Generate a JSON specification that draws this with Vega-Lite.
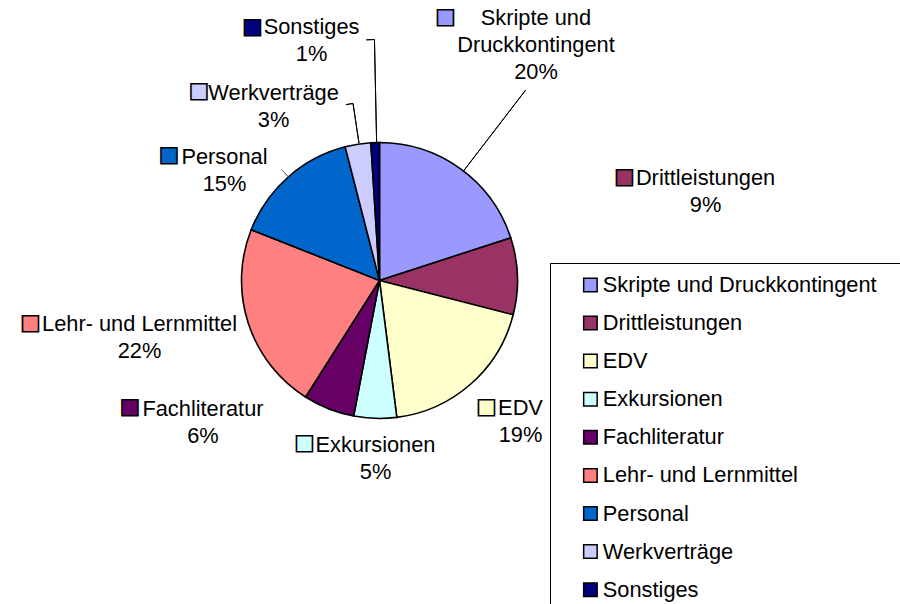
{
  "$schema": "https://vega.github.io/schema/vega-lite/v6.json",
  "width": 759,
  "height": 561,
  "autosize": "none",
  "padding": {"left": 0, "top": 0, "right": 141, "bottom": 43},
  "background": "white",
  "config": {"view": {"stroke": null}},
  "data": {
    "values": [
      {"kategorie": "Skripte und Druckkontingent", "anteil": 20, "etikett": "Skripte und\nDruckkontingent\n20%"},
      {"kategorie": "Drittleistungen", "anteil": 9, "etikett": "Drittleistungen\n9%"},
      {"kategorie": "EDV", "anteil": 19, "etikett": "EDV\n19%"},
      {"kategorie": "Exkursionen", "anteil": 5, "etikett": "Exkursionen\n5%"},
      {"kategorie": "Fachliteratur", "anteil": 6, "etikett": "Fachliteratur\n6%"},
      {"kategorie": "Lehr- und Lernmittel", "anteil": 22, "etikett": "Lehr- und Lernmittel\n22%"},
      {"kategorie": "Personal", "anteil": 15, "etikett": "Personal\n15%"},
      {"kategorie": "Werkverträge", "anteil": 3, "etikett": "Werkverträge\n3%"},
      {"kategorie": "Sonstiges", "anteil": 1, "etikett": "Sonstiges\n1%"}
    ]
  },
  "transform": [
    {"window": [{"op": "row_number", "as": "nr"}, {"op": "sum", "field": "anteil", "as": "kum"}], "frame": [null, 0]}
  ],
  "layer": [
    {
      "mark": {"type": "arc", "radius": 138, "stroke": "black", "strokeWidth": 1.6},
      "encoding": {
        "theta": {"field": "anteil", "type": "quantitative", "stack": true, "scale": {"domain": [0, 100]}},
        "order": {"field": "nr", "type": "quantitative"},
        "color": {
          "field": "kategorie", "type": "nominal",
          "scale": {
            "domain": ["Skripte und Druckkontingent", "Drittleistungen", "EDV", "Exkursionen", "Fachliteratur", "Lehr- und Lernmittel", "Personal", "Werkverträge", "Sonstiges"],
            "range": ["#9999FF", "#993366", "#FFFFCC", "#CCFFFF", "#660066", "#FF8080", "#0066CC", "#CCCCFF", "#000080"]
          },
          "legend": {
            "orient": "none", "legendX": 550, "legendY": 263, "title": " ", "titleOrient": "right", "titlePadding": 12,
            "padding": 11, "strokeColor": "#000000", "fillColor": "white",
            "symbolType": "square", "symbolSize": 182, "symbolStrokeColor": "black", "symbolStrokeWidth": 1.5,
            "symbolOffset": 18.5, "labelFont": "Liberation Sans", "labelFontSize": 21.8, "labelColor": "black",
            "labelOffset": 1.5, "rowPadding": 15.1, "labelLimit": 500
          }
        }
      }
    },
    {"transform": [{"filter": {"field": "kategorie", "equal": "Skripte und Druckkontingent"}}],
     "mark": {"type": "arc", "radius": 240, "radius2": 138, "thetaOffset": -0.6021, "theta2Offset": -0.6021, "fill": "transparent", "stroke": "black", "strokeWidth": 1},
     "encoding": {"theta": {"field": "kum", "type": "quantitative", "stack": null, "scale": {"domain": [0, 100]}}, "theta2": {"field": "kum"}}},
    {"transform": [{"filter": {"field": "kategorie", "equal": "Sonstiges"}}],
     "mark": {"type": "arc", "radius": 241, "radius2": 138, "thetaOffset": -0.0209, "theta2Offset": -0.0209, "fill": "transparent", "stroke": "black", "strokeWidth": 1},
     "encoding": {"theta": {"field": "kum", "type": "quantitative", "stack": null, "scale": {"domain": [0, 100]}}, "theta2": {"field": "kum"}}},
    {"transform": [{"filter": {"field": "kategorie", "equal": "Sonstiges"}}],
     "mark": {"type": "arc", "radius": 241, "radius2": 241, "thetaOffset": -0.0541, "theta2Offset": -0.0209, "fill": "transparent", "stroke": "black", "strokeWidth": 1},
     "encoding": {"theta": {"field": "kum", "type": "quantitative", "stack": null, "scale": {"domain": [0, 100]}}, "theta2": {"field": "kum"}}},
    {"transform": [{"filter": {"field": "kategorie", "equal": "Werkverträge"}}],
     "mark": {"type": "arc", "radius": 179, "radius2": 139, "thetaOffset": -0.0855, "theta2Offset": -0.0855, "fill": "transparent", "stroke": "black", "strokeWidth": 1},
     "encoding": {"theta": {"field": "kum", "type": "quantitative", "stack": null, "scale": {"domain": [0, 100]}}, "theta2": {"field": "kum"}}},
    {"transform": [{"filter": {"field": "kategorie", "equal": "Werkverträge"}}],
     "mark": {"type": "arc", "radius": 179, "radius2": 179, "thetaOffset": -0.1257, "theta2Offset": -0.0855, "fill": "transparent", "stroke": "black", "strokeWidth": 1},
     "encoding": {"theta": {"field": "kum", "type": "quantitative", "stack": null, "scale": {"domain": [0, 100]}}, "theta2": {"field": "kum"}}},
    {"transform": [{"filter": {"field": "kategorie", "equal": "Personal"}}],
     "mark": {"type": "arc", "radius": 148, "radius2": 138, "thetaOffset": -0.4712, "theta2Offset": -0.4712, "fill": "transparent", "stroke": "#808080", "strokeWidth": 1},
     "encoding": {"theta": {"field": "kum", "type": "quantitative", "stack": null, "scale": {"domain": [0, 100]}}, "theta2": {"field": "kum"}}},

    {"transform": [{"filter": {"field": "kategorie", "equal": "Skripte und Druckkontingent"}}],
     "mark": {"type": "text", "font": "Liberation Sans", "fontSize": 21.8, "lineHeight": 27, "lineBreak": "\n", "align": "center", "baseline": "middle", "color": "black", "radius": 282, "thetaOffset": -0.6283, "dx": -9.3, "dy": -34},
     "encoding": {"theta": {"field": "kum", "type": "quantitative", "stack": null, "scale": {"domain": [0, 100]}}, "text": {"field": "etikett"}}},
    {"transform": [{"filter": {"field": "kategorie", "equal": "Drittleistungen"}}],
     "mark": {"type": "text", "font": "Liberation Sans", "fontSize": 21.8, "lineHeight": 27, "lineBreak": "\n", "align": "center", "baseline": "middle", "color": "black", "radius": 329, "thetaOffset": -0.2827, "dx": -2.8, "dy": -91.7},
     "encoding": {"theta": {"field": "kum", "type": "quantitative", "stack": null, "scale": {"domain": [0, 100]}}, "text": {"field": "etikett"}}},
    {"transform": [{"filter": {"field": "kategorie", "equal": "EDV"}}],
     "mark": {"type": "text", "font": "Liberation Sans", "fontSize": 21.8, "lineHeight": 27, "lineBreak": "\n", "align": "center", "baseline": "middle", "color": "black", "radius": 199, "thetaOffset": -0.5969, "dx": 9.4, "dy": -21.3},
     "encoding": {"theta": {"field": "kum", "type": "quantitative", "stack": null, "scale": {"domain": [0, 100]}}, "text": {"field": "etikett"}}},
    {"transform": [{"filter": {"field": "kategorie", "equal": "Exkursionen"}}],
     "mark": {"type": "text", "font": "Liberation Sans", "fontSize": 21.8, "lineHeight": 27, "lineBreak": "\n", "align": "center", "baseline": "middle", "color": "black", "radius": 178, "thetaOffset": -0.1571, "dx": 1.6, "dy": -13.4},
     "encoding": {"theta": {"field": "kum", "type": "quantitative", "stack": null, "scale": {"domain": [0, 100]}}, "text": {"field": "etikett"}}},
    {"transform": [{"filter": {"field": "kategorie", "equal": "Fachliteratur"}}],
     "mark": {"type": "text", "font": "Liberation Sans", "fontSize": 21.8, "lineHeight": 27, "lineBreak": "\n", "align": "center", "baseline": "middle", "color": "black", "radius": 197, "thetaOffset": -0.1885, "dx": -104, "dy": -54.2},
     "encoding": {"theta": {"field": "kum", "type": "quantitative", "stack": null, "scale": {"domain": [0, 100]}}, "text": {"field": "etikett"}}},
    {"transform": [{"filter": {"field": "kategorie", "equal": "Lehr- und Lernmittel"}}],
     "mark": {"type": "text", "font": "Liberation Sans", "fontSize": 21.8, "lineHeight": 27, "lineBreak": "\n", "align": "center", "baseline": "middle", "color": "black", "radius": 246, "thetaOffset": -0.6912, "dx": -6, "dy": -32.5},
     "encoding": {"theta": {"field": "kum", "type": "quantitative", "stack": null, "scale": {"domain": [0, 100]}}, "text": {"field": "etikett"}}},
    {"transform": [{"filter": {"field": "kategorie", "equal": "Personal"}}],
     "mark": {"type": "text", "font": "Liberation Sans", "fontSize": 21.8, "lineHeight": 27, "lineBreak": "\n", "align": "center", "baseline": "middle", "color": "black", "radius": 185, "thetaOffset": -0.4712, "dx": -32.7, "dy": 14.8},
     "encoding": {"theta": {"field": "kum", "type": "quantitative", "stack": null, "scale": {"domain": [0, 100]}}, "text": {"field": "etikett"}}},
    {"transform": [{"filter": {"field": "kategorie", "equal": "Werkverträge"}}],
     "mark": {"type": "text", "font": "Liberation Sans", "fontSize": 21.8, "lineHeight": 27, "lineBreak": "\n", "align": "center", "baseline": "middle", "color": "black", "radius": 189, "thetaOffset": -0.0942, "dx": -76.4, "dy": -1.3},
     "encoding": {"theta": {"field": "kum", "type": "quantitative", "stack": null, "scale": {"domain": [0, 100]}}, "text": {"field": "etikett"}}},
    {"transform": [{"filter": {"field": "kategorie", "equal": "Sonstiges"}}],
     "mark": {"type": "text", "font": "Liberation Sans", "fontSize": 21.8, "lineHeight": 27, "lineBreak": "\n", "align": "center", "baseline": "middle", "color": "black", "radius": 241, "thetaOffset": -0.0314, "dx": -60.4, "dy": -13.1},
     "encoding": {"theta": {"field": "kum", "type": "quantitative", "stack": null, "scale": {"domain": [0, 100]}}, "text": {"field": "etikett"}}},

    {"transform": [{"filter": {"field": "kategorie", "equal": "Skripte und Druckkontingent"}}],
     "mark": {"type": "text", "text": "■", "font": "DejaVu Sans", "fontSize": 21, "align": "center", "baseline": "middle", "stroke": "black", "strokeWidth": 1.6, "radius": 282, "thetaOffset": -0.6283, "dx": -99.8, "dy": -35.4},
     "encoding": {"theta": {"field": "kum", "type": "quantitative", "stack": null, "scale": {"domain": [0, 100]}}, "color": {"field": "kategorie", "type": "nominal"}}},
    {"transform": [{"filter": {"field": "kategorie", "equal": "Drittleistungen"}}],
     "mark": {"type": "text", "text": "■", "font": "DejaVu Sans", "fontSize": 21, "align": "center", "baseline": "middle", "stroke": "black", "strokeWidth": 1.6, "radius": 329, "thetaOffset": -0.2827, "dx": -83.8, "dy": -93.2},
     "encoding": {"theta": {"field": "kum", "type": "quantitative", "stack": null, "scale": {"domain": [0, 100]}}, "color": {"field": "kategorie", "type": "nominal"}}},
    {"transform": [{"filter": {"field": "kategorie", "equal": "EDV"}}],
     "mark": {"type": "text", "text": "■", "font": "DejaVu Sans", "fontSize": 21, "align": "center", "baseline": "middle", "stroke": "black", "strokeWidth": 1.6, "radius": 199, "thetaOffset": -0.5969, "dx": -24.6, "dy": -22.6},
     "encoding": {"theta": {"field": "kum", "type": "quantitative", "stack": null, "scale": {"domain": [0, 100]}}, "color": {"field": "kategorie", "type": "nominal"}}},
    {"transform": [{"filter": {"field": "kategorie", "equal": "Exkursionen"}}],
     "mark": {"type": "text", "text": "■", "font": "DejaVu Sans", "fontSize": 21, "align": "center", "baseline": "middle", "stroke": "black", "strokeWidth": 1.6, "radius": 178, "thetaOffset": -0.1571, "dx": -69.4, "dy": -15.9},
     "encoding": {"theta": {"field": "kum", "type": "quantitative", "stack": null, "scale": {"domain": [0, 100]}}, "color": {"field": "kategorie", "type": "nominal"}}},
    {"transform": [{"filter": {"field": "kategorie", "equal": "Fachliteratur"}}],
     "mark": {"type": "text", "text": "■", "font": "DejaVu Sans", "fontSize": 21, "align": "center", "baseline": "middle", "stroke": "black", "strokeWidth": 1.6, "radius": 197, "thetaOffset": -0.1885, "dx": -177, "dy": -56.2},
     "encoding": {"theta": {"field": "kum", "type": "quantitative", "stack": null, "scale": {"domain": [0, 100]}}, "color": {"field": "kategorie", "type": "nominal"}}},
    {"transform": [{"filter": {"field": "kategorie", "equal": "Lehr- und Lernmittel"}}],
     "mark": {"type": "text", "text": "■", "font": "DejaVu Sans", "fontSize": 21, "align": "center", "baseline": "middle", "stroke": "black", "strokeWidth": 1.6, "radius": 246, "thetaOffset": -0.6912, "dx": -115, "dy": -34},
     "encoding": {"theta": {"field": "kum", "type": "quantitative", "stack": null, "scale": {"domain": [0, 100]}}, "color": {"field": "kategorie", "type": "nominal"}}},
    {"transform": [{"filter": {"field": "kategorie", "equal": "Personal"}}],
     "mark": {"type": "text", "text": "■", "font": "DejaVu Sans", "fontSize": 21, "align": "center", "baseline": "middle", "stroke": "black", "strokeWidth": 1.6, "radius": 185, "thetaOffset": -0.4712, "dx": -88.2, "dy": 13.3},
     "encoding": {"theta": {"field": "kum", "type": "quantitative", "stack": null, "scale": {"domain": [0, 100]}}, "color": {"field": "kategorie", "type": "nominal"}}},
    {"transform": [{"filter": {"field": "kategorie", "equal": "Werkverträge"}}],
     "mark": {"type": "text", "text": "■", "font": "DejaVu Sans", "fontSize": 21, "align": "center", "baseline": "middle", "stroke": "black", "strokeWidth": 1.6, "radius": 189, "thetaOffset": -0.0942, "dx": -150.9, "dy": -3.3},
     "encoding": {"theta": {"field": "kum", "type": "quantitative", "stack": null, "scale": {"domain": [0, 100]}}, "color": {"field": "kategorie", "type": "nominal"}}},
    {"transform": [{"filter": {"field": "kategorie", "equal": "Sonstiges"}}],
     "mark": {"type": "text", "text": "■", "font": "DejaVu Sans", "fontSize": 21, "align": "center", "baseline": "middle", "stroke": "black", "strokeWidth": 1.6, "radius": 241, "thetaOffset": -0.0314, "dx": -119.4, "dy": -13.1},
     "encoding": {"theta": {"field": "kum", "type": "quantitative", "stack": null, "scale": {"domain": [0, 100]}}, "color": {"field": "kategorie", "type": "nominal"}}}
  ]
}
